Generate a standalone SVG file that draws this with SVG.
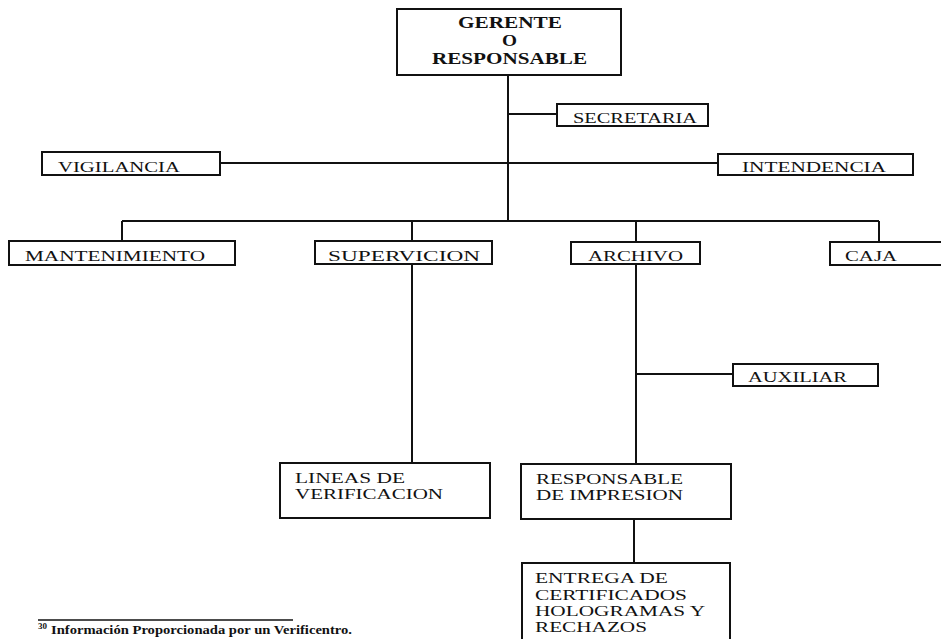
<svg xmlns="http://www.w3.org/2000/svg" width="941" height="639" viewBox="0 0 941 639">
<style>
  .box { fill: #fff; stroke: #111; stroke-width: 2; }
  .ln { fill: none; stroke: #111; stroke-width: 2; }
  .t { font-family: "Liberation Serif", "Times New Roman", serif; font-size: 15px; fill: #111; }
  .tb { font-family: "Liberation Serif", "Times New Roman", serif; font-size: 16px; font-weight: bold; fill: #111; }
  .fn { font-family: "Liberation Serif", "Times New Roman", serif; font-size: 13px; font-weight: bold; fill: #111; }
</style>
<rect x="0" y="0" width="941" height="639" fill="#fff"/>
<g id="connectors">
  <path class="ln" d="M508 75 V222"/>
  <path class="ln" d="M508 114 H557"/>
  <path class="ln" d="M220 163 H718"/>
  <path class="ln" d="M122 221 H879"/>
  <path class="ln" d="M122 221 V241"/>
  <path class="ln" d="M412 221 V241"/>
  <path class="ln" d="M636 221 V242"/>
  <path class="ln" d="M879 221 V242"/>
  <path class="ln" d="M412 264 V463"/>
  <path class="ln" d="M636 264 V464"/>
  <path class="ln" d="M636 374 H733"/>
  <path class="ln" d="M634 519 V563"/>
</g>
<g id="gerente">
  <rect class="box" x="397" y="9" width="224" height="66"/>
  <text class="tb" x="458" y="28" textLength="104" lengthAdjust="spacingAndGlyphs">GERENTE</text>
  <text class="tb" x="502" y="46" textLength="15" lengthAdjust="spacingAndGlyphs">O</text>
  <text class="tb" x="432" y="64" textLength="155" lengthAdjust="spacingAndGlyphs">RESPONSABLE</text>
</g>
<g id="secretaria">
  <rect class="box" x="557" y="104" width="151" height="22"/>
  <text class="t" x="573" y="123" textLength="124" lengthAdjust="spacingAndGlyphs">SECRETARIA</text>
</g>
<g id="vigilancia">
  <rect class="box" x="42" y="152" width="178" height="23"/>
  <text class="t" x="58" y="172" textLength="122" lengthAdjust="spacingAndGlyphs">VIGILANCIA</text>
</g>
<g id="intendencia">
  <rect class="box" x="718" y="154" width="195" height="21"/>
  <text class="t" x="742" y="172" textLength="144" lengthAdjust="spacingAndGlyphs">INTENDENCIA</text>
</g>
<g id="mantenimiento">
  <rect class="box" x="9" y="241" width="226" height="24"/>
  <text class="t" x="25" y="261" textLength="180" lengthAdjust="spacingAndGlyphs">MANTENIMIENTO</text>
</g>
<g id="supervicion">
  <rect class="box" x="315" y="241" width="177" height="23"/>
  <text class="t" x="328" y="261" textLength="152" lengthAdjust="spacingAndGlyphs">SUPERVICION</text>
</g>
<g id="archivo">
  <rect class="box" x="571" y="242" width="129" height="22"/>
  <text class="t" x="588" y="261" textLength="95" lengthAdjust="spacingAndGlyphs">ARCHIVO</text>
</g>
<g id="caja">
  <rect class="box" x="830" y="242" width="130" height="23"/>
  <text class="t" x="845" y="261" textLength="52" lengthAdjust="spacingAndGlyphs">CAJA</text>
</g>
<g id="auxiliar">
  <rect class="box" x="733" y="364" width="145" height="22"/>
  <text class="t" x="748" y="382" textLength="99" lengthAdjust="spacingAndGlyphs">AUXILIAR</text>
</g>
<g id="lineas">
  <rect class="box" x="280" y="463" width="210" height="55"/>
  <text class="t" x="295" y="483" textLength="110" lengthAdjust="spacingAndGlyphs">LINEAS DE</text>
  <text class="t" x="295" y="499" textLength="148" lengthAdjust="spacingAndGlyphs">VERIFICACION</text>
</g>
<g id="impresion">
  <rect class="box" x="521" y="464" width="210" height="55"/>
  <text class="t" x="536" y="484" textLength="147" lengthAdjust="spacingAndGlyphs">RESPONSABLE</text>
  <text class="t" x="536" y="500" textLength="147" lengthAdjust="spacingAndGlyphs">DE IMPRESION</text>
</g>
<g id="entrega">
  <rect class="box" x="522" y="563" width="208" height="84"/>
  <text class="t" x="535" y="583" textLength="133" lengthAdjust="spacingAndGlyphs">ENTREGA DE</text>
  <text class="t" x="535" y="600" textLength="152" lengthAdjust="spacingAndGlyphs">CERTIFICADOS</text>
  <text class="t" x="535" y="616" textLength="170" lengthAdjust="spacingAndGlyphs">HOLOGRAMAS Y</text>
  <text class="t" x="535" y="632" textLength="112" lengthAdjust="spacingAndGlyphs">RECHAZOS</text>
</g>
<g id="footnote">
  <path d="M38 620 H293" stroke="#111" stroke-width="1.5"/>
  <text class="fn" x="38" y="629" style="font-size:9px">30</text>
  <text class="fn" x="51" y="634" textLength="301" lengthAdjust="spacingAndGlyphs">Información Proporcionada por un Verificentro.</text>
</g>
</svg>
